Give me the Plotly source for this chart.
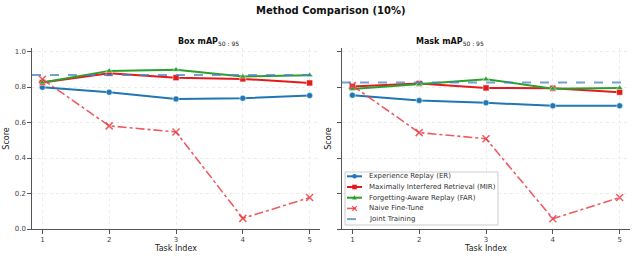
import plotly.graph_objects as go

tasks = [1, 2, 3, 4, 5]
ytick_vals = [0.0, 0.2, 0.4, 0.6, 0.8, 1.0]
ytick_text = ["0.0", "0.2", "0.4", "0.6", "0.8", "1.0"]

box_er = [0.799, 0.771, 0.733, 0.737, 0.752]
box_mir = [0.825, 0.878, 0.853, 0.846, 0.823]
box_far = [0.825, 0.891, 0.897, 0.859, 0.867]
box_naive = [0.844, 0.581, 0.547, 0.060, 0.177]
box_joint = 0.868

mask_er = [0.754, 0.724, 0.711, 0.694, 0.694]
mask_mir = [0.803, 0.820, 0.795, 0.793, 0.771]
mask_far = [0.789, 0.816, 0.844, 0.791, 0.795]
mask_naive = [0.808, 0.543, 0.509, 0.058, 0.177]
mask_joint = 0.825

names = ["Experience Replay (ER)", "Maximally Interfered Retrieval (MIR)",
         "Forgetting-Aware Replay (FAR)", "Naive Fine-Tune", "Joint Training"]

FONT = "DejaVu Sans"
C_ER = "#1f77b4"
C_MIR = "#e41a1c"
C_FAR = "#2ca02c"
C_NAIVE = "rgba(232,65,70,0.85)"
C_JOINT = "rgba(70,130,195,0.75)"

W, H = 634, 257
ML, MR, MT, MB = 32, 4, 48, 28
PW, PH = W - ML - MR, H - MT - MB


def px(x):
    return (x - ML) / PW


def py(y):
    return (H - MB - y) / PH


fig = go.Figure()

panels = [
    ("x", "y", box_er, box_mir, box_far, box_naive, box_joint),
    ("x2", "y2", mask_er, mask_mir, mask_far, mask_naive, mask_joint),
]
for xa, ya, er, mir, far, naive, joint in panels:
    fig.add_trace(go.Scatter(x=tasks, y=er, xaxis=xa, yaxis=ya, mode="lines+markers",
                             name=names[0], showlegend=False,
                             line=dict(color=C_ER, width=2),
                             marker=dict(symbol="circle", size=6, color=C_ER,
                                         line=dict(color="white", width=0.5))))
    fig.add_trace(go.Scatter(x=tasks, y=mir, xaxis=xa, yaxis=ya, mode="lines+markers",
                             name=names[1], showlegend=False,
                             line=dict(color=C_MIR, width=2),
                             marker=dict(symbol="square", size=6, color=C_MIR,
                                         line=dict(color="white", width=0.5))))
    fig.add_trace(go.Scatter(x=tasks, y=far, xaxis=xa, yaxis=ya, mode="lines+markers",
                             name=names[2], showlegend=False,
                             line=dict(color=C_FAR, width=2),
                             marker=dict(symbol="triangle-up", size=6, color=C_FAR,
                                         line=dict(color="white", width=0.5))))
    fig.add_trace(go.Scatter(x=tasks, y=naive, xaxis=xa, yaxis=ya, mode="lines+markers",
                             name=names[3], showlegend=False,
                             line=dict(color=C_NAIVE, width=1.6, dash="dashdot"),
                             marker=dict(symbol="x-thin", size=7,
                                         line=dict(color=C_NAIVE, width=1.5))))
    fig.add_trace(go.Scatter(x=[0.845, 5.155], y=[joint, joint], xaxis=xa, yaxis=ya,
                             mode="lines", name=names[4], showlegend=False,
                             line=dict(color=C_JOINT, width=2, dash="dash")))

axis_common = dict(
    showline=True, linecolor="#555555", linewidth=1.2,
    ticks="outside", ticklen=3.5, tickwidth=1, tickcolor="#555555",
    showgrid=True, gridcolor="#ececec", gridwidth=0.5, griddash="dot",
    zeroline=False, tickfont=dict(family=FONT, size=7, color="#444444"),
    mirror=False, automargin=False,
)

# ---- compact legend (matplotlib-like) ----
leg_x0, leg_x1, leg_y0, leg_y1 = 345, 498, 172, 225
item_y = [176.3, 187.0, 197.7, 208.4, 219.1]
sym_x0, sym_x1, txt_x = 347, 362, 367
leg_styles = [
    (C_ER, "solid", 2, "circle"),
    (C_MIR, "solid", 2, "square"),
    (C_FAR, "solid", 2, "triangle"),
    (C_NAIVE, "dashdot", 1.5, "x"),
    (C_JOINT, "dash", 2, None),
]
shapes = [dict(type="rect", xref="paper", yref="paper",
               x0=px(leg_x0), x1=px(leg_x1), y0=py(leg_y1), y1=py(leg_y0),
               line=dict(color="#cccccc", width=1), fillcolor="rgba(255,255,255,0.85)",
               layer="above")]
annotations = []
for (col, dash, lw, sym), yy, nm in zip(leg_styles, item_y, names):
    shapes.append(dict(type="line", xref="paper", yref="paper",
                       x0=px(sym_x0), x1=px(sym_x1), y0=py(yy), y1=py(yy),
                       line=dict(color=col, width=lw, dash="dash" if dash == "dashdot" else dash),
                       layer="above"))
    cx = (sym_x0 + sym_x1) / 2
    r = 2.3
    if sym == "circle":
        shapes.append(dict(type="circle", xref="paper", yref="paper",
                           x0=px(cx - r), x1=px(cx + r), y0=py(yy + r), y1=py(yy - r),
                           fillcolor=col, line=dict(color=col, width=0), layer="above"))
    elif sym == "square":
        shapes.append(dict(type="rect", xref="paper", yref="paper",
                           x0=px(cx - r), x1=px(cx + r), y0=py(yy + r), y1=py(yy - r),
                           fillcolor=col, line=dict(color=col, width=0), layer="above"))
    elif sym == "triangle":
        path = "M {} {} L {} {} L {} {} Z".format(px(cx - r), py(yy + r * 0.8),
                                                  px(cx + r), py(yy + r * 0.8),
                                                  px(cx), py(yy - r * 1.1))
        shapes.append(dict(type="path", xref="paper", yref="paper", path=path,
                           fillcolor=col, line=dict(color=col, width=0), layer="above"))
    elif sym == "x":
        for d in (1, -1):
            shapes.append(dict(type="line", xref="paper", yref="paper",
                               x0=px(cx - r), x1=px(cx + r), y0=py(yy + d * r), y1=py(yy - d * r),
                               line=dict(color=col, width=1.3), layer="above"))
    annotations.append(dict(text=nm, x=px(txt_x), y=py(yy), xref="paper", yref="paper",
                            xanchor="left", yanchor="middle", showarrow=False,
                            font=dict(family=FONT, size=7, color="#333333")))

SUB = "<sub><span style='font-size:6px'>50&nbsp;:&nbsp;95</span></sub>"
annotations += [
    dict(text="<b>Method Comparison (10%)</b>", x=0.5, y=py(10), xref="paper", yref="paper",
         yanchor="middle", xanchor="center", showarrow=False,
         font=dict(family=FONT, size=10, color="#111111")),
    dict(text="<b>Box mAP</b>" + SUB, x=(px(32) + px(320)) / 2, y=py(42),
         xref="paper", yref="paper", yanchor="middle", showarrow=False,
         font=dict(family=FONT, size=8, color="#111111")),
    dict(text="<b>Mask mAP</b>" + SUB, x=(px(342) + px(630)) / 2, y=py(42),
         xref="paper", yref="paper", yanchor="middle", showarrow=False,
         font=dict(family=FONT, size=8, color="#111111")),
]

title_font = dict(family=FONT, size=8, color="#222222")
fig.update_layout(
    width=W, height=H,
    margin=dict(l=ML, r=MR, t=MT, b=MB, autoexpand=False),
    paper_bgcolor="white", plot_bgcolor="white",
    font=dict(family=FONT, size=7, color="#222222"),
    showlegend=False,
    xaxis=dict(domain=[px(32), px(320)], range=[0.845, 5.155], tickvals=tasks,
               title=dict(text="Task Index", font=title_font, standoff=2), **axis_common),
    xaxis2=dict(domain=[px(342), px(630)], range=[0.845, 5.155], tickvals=tasks,
                title=dict(text="Task Index", font=title_font, standoff=2), **axis_common),
    yaxis=dict(domain=[0, 1], range=[0, 1.02], tickvals=ytick_vals, ticktext=ytick_text,
               title=dict(text="Score", font=title_font, standoff=4), anchor="x", **axis_common),
    yaxis2=dict(domain=[0, 1], range=[0, 1.02], tickvals=ytick_vals, showticklabels=False,
                title=dict(text="Score", font=title_font, standoff=4), anchor="x2", **axis_common),
    shapes=shapes,
    annotations=annotations,
)

fig.write_html("out.html", config={"displayModeBar": False},
               post_script="document.body.style.margin='0';")
